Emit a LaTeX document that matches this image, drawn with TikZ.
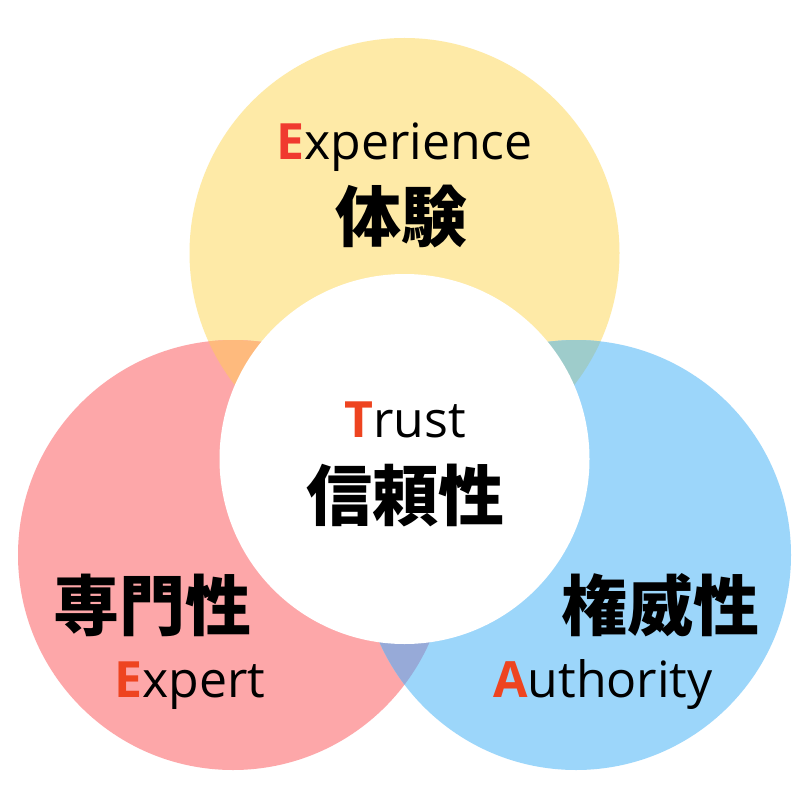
\documentclass[tikz,border=0pt]{standalone}
\usepackage{fontspec}
\setmainfont{Open Sans}
\newfontfamily\jpfont{Noto Sans CJK JP}
\definecolor{cyel}{HTML}{FEEAA7}
\definecolor{cred}{HTML}{FDA7A9}
\definecolor{cblu}{HTML}{9CD6FA}
\definecolor{corg}{HTML}{FEBA7D}
\definecolor{cteal}{HTML}{9ECCCB}
\definecolor{cpur}{HTML}{97AAD8}
\definecolor{redE}{HTML}{F03A2F}
\definecolor{redT}{HTML}{EE4420}
\tikzset{
  lat/.style={inner sep=0pt, anchor=base, font=\fontsize{50}{60}\selectfont},
  jp/.style={inner sep=0pt, anchor=center, font=\jpfont\bfseries\fontsize{66}{72}\selectfont},
}
\begin{document}
\begin{tikzpicture}[x=1pt,y=-1pt]
\fill[white] (0,0) rectangle (810,810);
\useasboundingbox (0,0) rectangle (810,810);
\coordinate (Y) at (404.5,253);
\coordinate (R) at (233,555);
\coordinate (B) at (576,555);
\coordinate (W) at (404.5,459);
\fill[cyel] (Y) circle[radius=215pt];
\fill[cred] (R) circle[radius=215pt];
\fill[cblu] (B) circle[radius=215pt];
\begin{scope}
  \clip (Y) circle[radius=215pt];
  \fill[corg] (R) circle[radius=215pt];
\end{scope}
\begin{scope}
  \clip (Y) circle[radius=215pt];
  \fill[cteal] (B) circle[radius=215pt];
\end{scope}
\begin{scope}
  \clip (R) circle[radius=215pt];
  \fill[cpur] (B) circle[radius=215pt];
\end{scope}
\fill[white] (W) circle[radius=185pt];

\node[lat] (exp) at (404.5,160) {\textcolor{redE}{\bfseries E}xperience};
\node[jp] (tai) at (401,217) {体験};
\node[lat] (tru) at (405,437) {\textcolor{redT}{\bfseries T}rust};
\node[jp] (shin) at (405,496) {信頼性};
\node[jp] (sen) at (152,605) {専門性};
\node[lat] (expt) at (190,697) {\textcolor{redT}{\bfseries E}xpert};
\node[jp] (ken) at (660,605) {権威性};
\node[lat] (aut) at (603,697) {\textcolor{redT}{\bfseries A}uthority};
\end{tikzpicture}
\end{document}
